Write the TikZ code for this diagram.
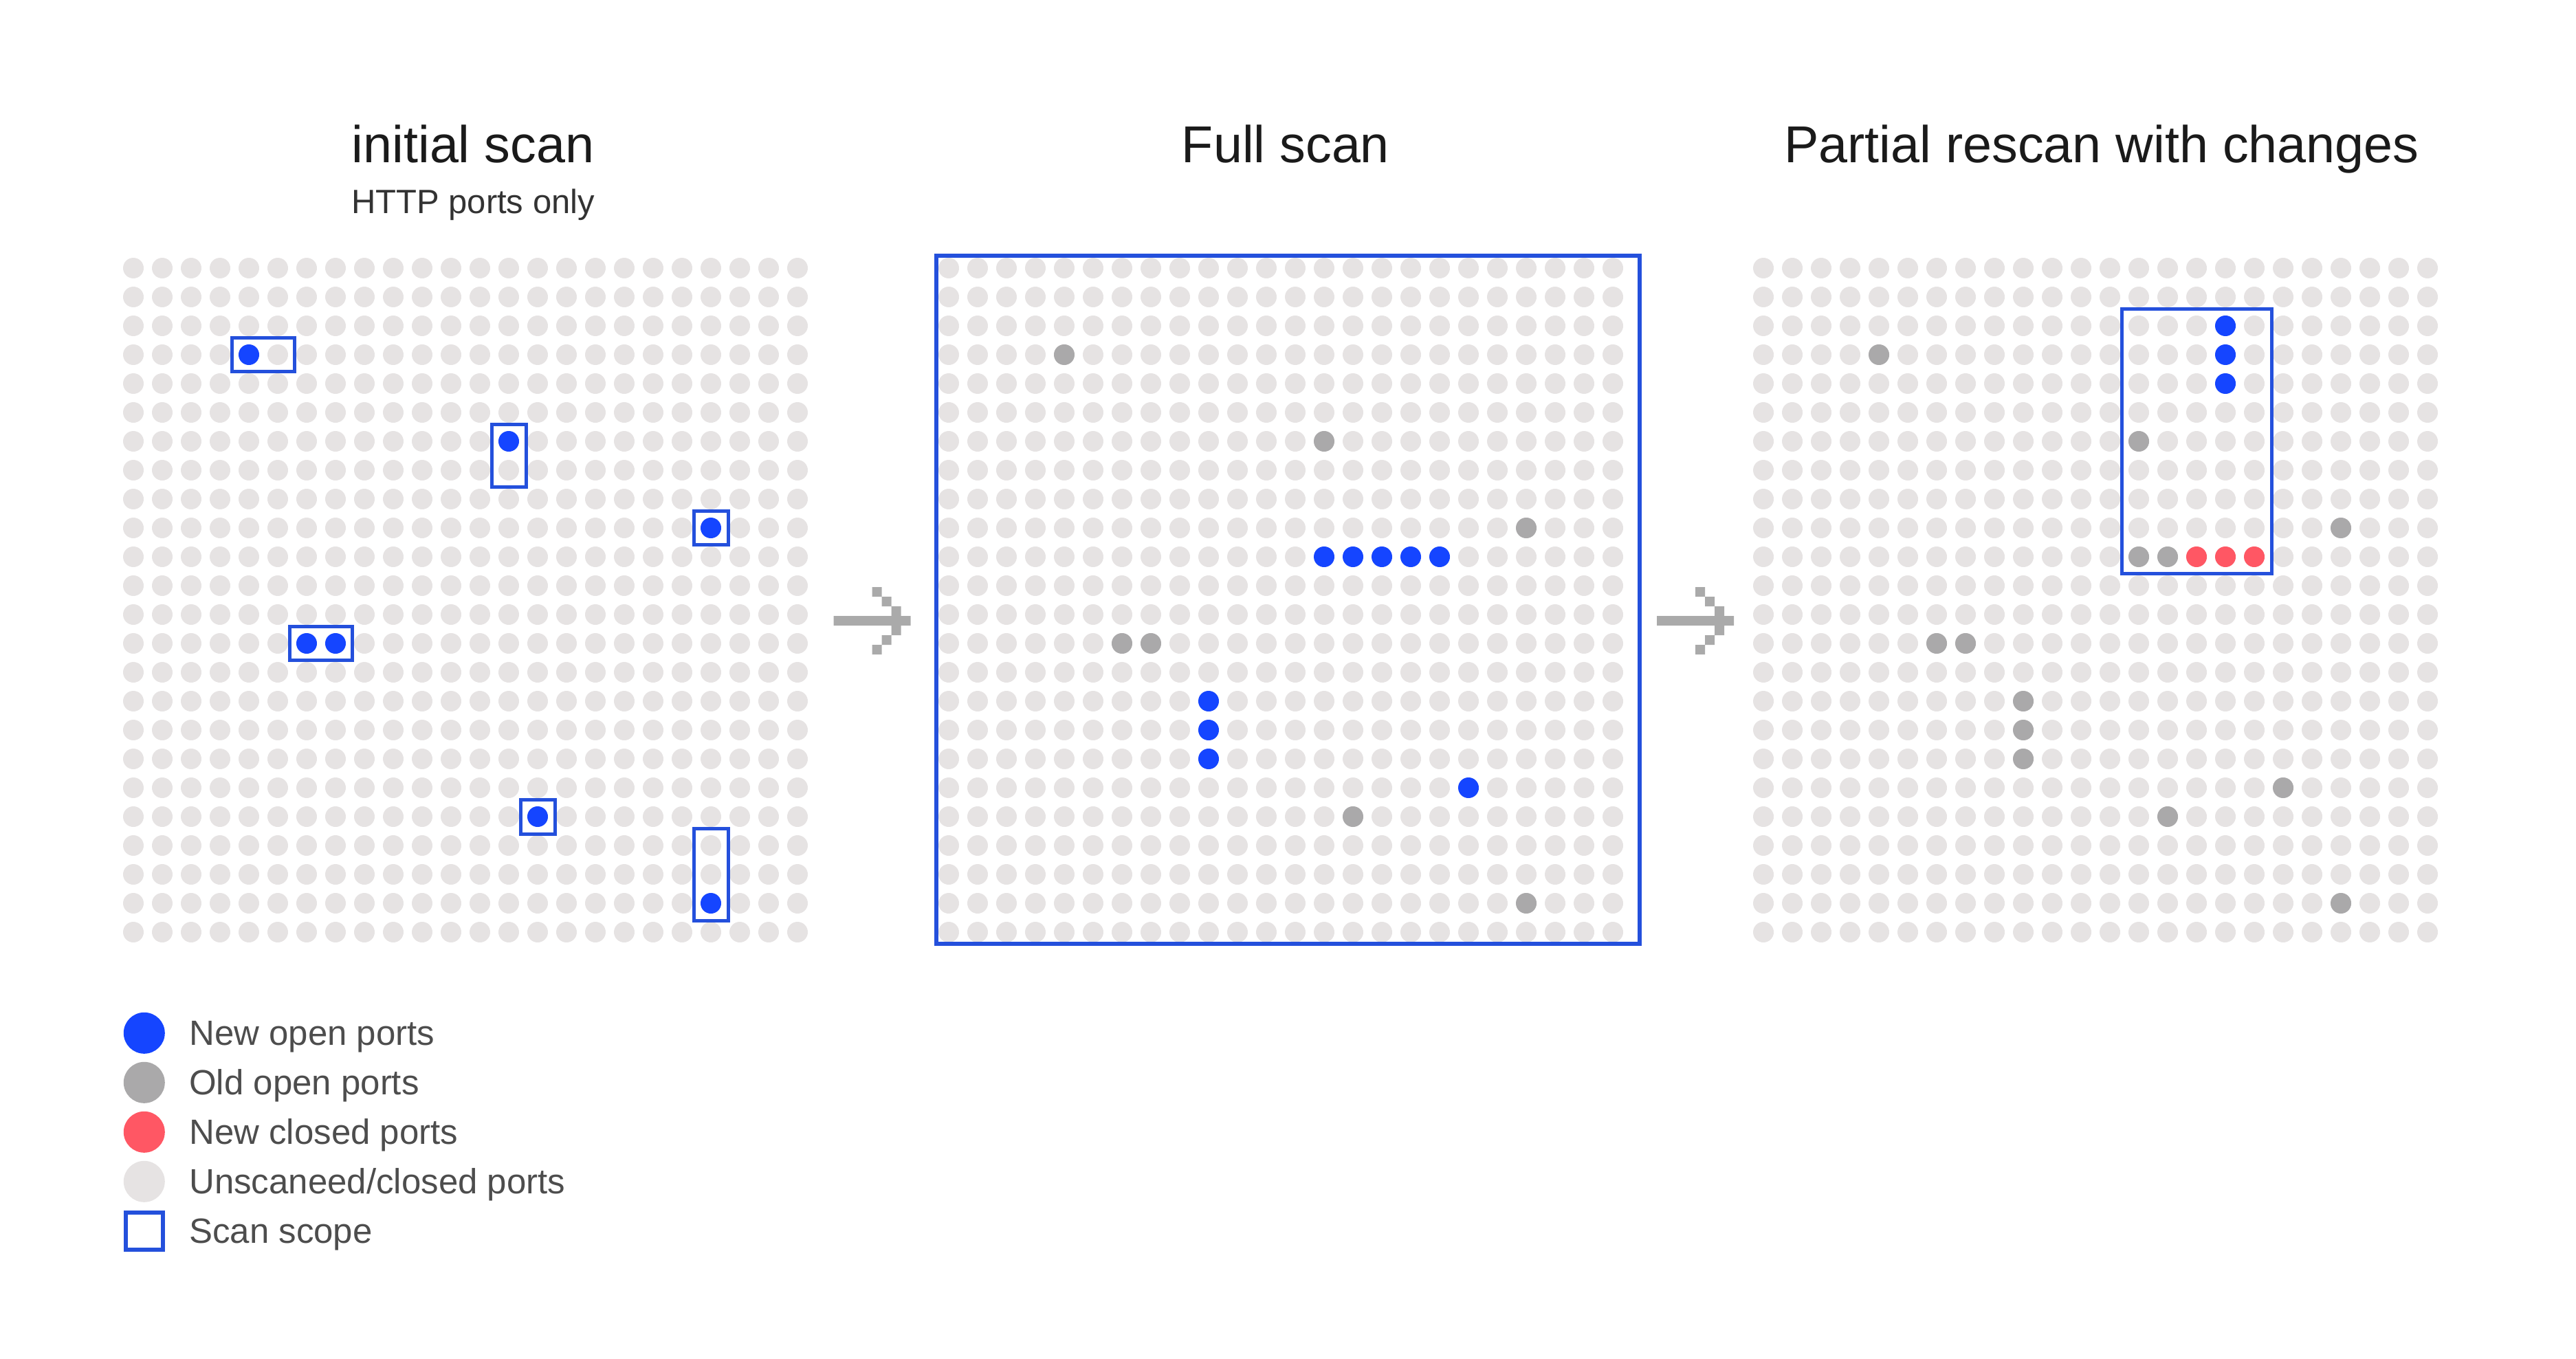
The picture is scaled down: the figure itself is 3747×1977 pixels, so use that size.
\documentclass[tikz,border=0pt]{standalone}
\usepackage{fontspec}
\setmainfont{Liberation Sans}
\usepackage{tikz}
\usetikzlibrary{positioning}
\definecolor{PortIdle}{RGB}{230,227,227}
\definecolor{PortOld}{RGB}{170,169,170}
\definecolor{PortNew}{RGB}{21,69,255}
\definecolor{PortShut}{RGB}{255,87,100}
\definecolor{ScopeBlue}{RGB}{36,80,220}
\definecolor{ArrowGray}{RGB}{170,170,170}
\definecolor{TitleInk}{RGB}{26,26,26}
\definecolor{SubInk}{RGB}{51,51,51}
\definecolor{KeyInk}{RGB}{77,77,77}
\newcommand{\portgrid}{%
  \foreach \c in {0,...,23} \foreach \r in {0,...,23}
    \fill[PortIdle] (\c,\r) circle[radius=15pt];}
\newcommand{\portdot}[3]{\fill[#3] (#1,#2) circle[radius=15pt];}
\newcommand{\scopebox}[4]{%
  \draw[ScopeBlue,line width=5pt] (#1-0.595,#2-0.595) rectangle (#3+0.595,#4+0.595);}
\newcommand{\pixarrow}[2]{%
  \fill[ArrowGray] (#1,#2-7) rectangle ++(112,14)
    (#1+84,#2-21) rectangle ++(14,42)
    (#1+70,#2-35) rectangle ++(14,14) (#1+70,#2+21) rectangle ++(14,14)
    (#1+56,#2-49) rectangle ++(14,14) (#1+56,#2+35) rectangle ++(14,14);}

\begin{document}
\begin{tikzpicture}[x=1pt,y=-1pt,
  title/.style={font=\fontsize{75.5}{80}\selectfont,text=TitleInk,anchor=base,inner sep=0pt},
  subtitle/.style={font=\fontsize{49}{54}\selectfont,text=SubInk,anchor=base,inner sep=0pt},
  keytext/.style={font=\fontsize{51}{56}\selectfont,text=KeyInk,anchor=base west,inner sep=0pt}]
  \useasboundingbox (0,0) rectangle (3747,1977);

  \node[title] (scan1) at (688,236.7) {initial scan};
  \node[subtitle] (sub1) at (688,311) {HTTP ports only};
  \node[title] (scan2) at (1870,236.7) {Full scan};
  \node[title] (scan3) at (3057,236.7) {Partial rescan with changes};

  \begin{scope}[shift={(194,390)},x=42pt,y=-42pt]
    \portgrid
    \foreach \c/\r in {4/3,13/6,20/9,6/13,7/13,14/19,20/22} {\portdot{\c}{\r}{PortNew}}
    \scopebox{4}{3}{5}{3}
    \scopebox{13}{6}{13}{7}
    \scopebox{20}{9}{20}{9}
    \scopebox{6}{13}{7}{13}
    \scopebox{14}{19}{14}{19}
    \scopebox{20}{20}{20}{22}
  \end{scope}

  \pixarrow{1212.7}{903}

  \begin{scope}[shift={(1380,390)},x=42pt,y=-42pt]
    \portgrid
    \foreach \c/\r in {4/3,13/6,20/9,6/13,7/13,14/19,20/22} {\portdot{\c}{\r}{PortOld}}
    \foreach \c/\r in {13/10,14/10,15/10,16/10,17/10,9/15,9/16,9/17,18/18} {\portdot{\c}{\r}{PortNew}}
    \draw[ScopeBlue,line width=6pt] (-0.43,-0.44) rectangle (23.92,23.41);
  \end{scope}

  \pixarrow{2410}{903}

  \begin{scope}[shift={(2565,390)},x=42pt,y=-42pt]
    \portgrid
    \foreach \c/\r in {4/3,13/6,20/9,13/10,14/10,6/13,7/13,9/15,9/16,9/17,18/18,14/19,20/22}
      {\portdot{\c}{\r}{PortOld}}
    \foreach \c/\r in {16/2,16/3,16/4} {\portdot{\c}{\r}{PortNew}}
    \foreach \c/\r in {15/10,16/10,17/10} {\portdot{\c}{\r}{PortShut}}
    \scopebox{13}{2}{17}{10}
  \end{scope}

  \foreach \k/\col/\txt in {0/PortNew/New open ports,1/PortOld/Old open ports,
      2/PortShut/New closed ports,3/PortIdle/{Unscaneed/closed ports}} {
    \fill[\col] (209.8,1502.8+72*\k) circle[radius=30pt];
    \node[keytext] (key\k) at (275,1520.7+72*\k) {\txt};
  }
  \draw[ScopeBlue,line width=6pt] (182.8,1763.8) rectangle ++(54,54);
  \node[keytext] (key4) at (275,1808.7) {Scan scope};
\end{tikzpicture}
\end{document}
